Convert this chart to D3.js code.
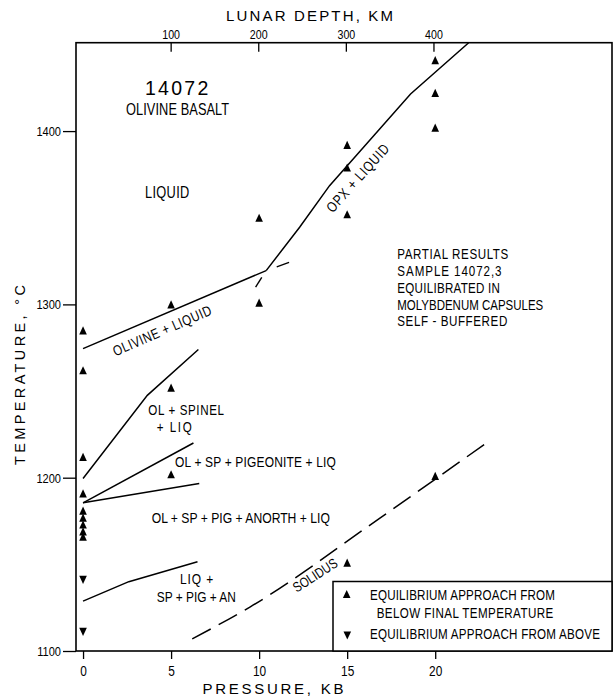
<!DOCTYPE html>
<html><head><meta charset="utf-8">
<script src="https://cdn.jsdelivr.net/npm/d3@7"></script>
<style>
body{margin:0;background:#fff;}
svg{display:block;}
text{font-family:"Liberation Sans",Arial,Helvetica,sans-serif;}
</style></head><body>
<svg id="chart" width="615" height="698"></svg>
<script>
// ---------------- DATA ----------------
const pressureTicks = [0, 5, 10, 15, 20];          // KB
const temperatureTicks = [1100, 1200, 1300, 1400]; // °C
const depthTicks = [100, 200, 300, 400];           // KM
const kmPerKb = 20.1;

// Equilibrium approach from below final temperature  [pressure KB, temperature °C]
const approachBelow = [
  [0,1285],[0,1262],[0,1212],[0,1191],[0,1181],[0,1177],[0,1173],[0,1169],[0,1166],
  [5,1300],[5,1252],[5,1202],
  [10,1350],[10,1301],
  [15,1392],[15,1379],[15,1352],[15,1151],
  [20,1441],[20,1422],[20,1402],[20,1201]
];
// Equilibrium approach from above
const approachAbove = [[0,1141],[0,1111]];

// Phase boundaries
const olivineLiquidLine = [[0,1274.5],[10.4,1319.5]];
const olivineExtension  = [[11.0,1321.6],[11.7,1324.2]];
const opxLiquidLine     = [[10.4,1319.5],[12.3,1344.5],[14.0,1368.5],[18.6,1421.4],[21.9,1451]];
const opxExtension      = [[10.15,1315.6],[9.8,1310]];
const spinelLine        = [[0,1199.5],[3.65,1247.5],[6.55,1274]];
const pigeoniteLine     = [[0,1185.5],[6.27,1220]];
const anorthiteLine     = [[0,1185.5],[6.6,1196.6]];
const liqPigAnLine      = [[0,1128.8],[2.6,1140],[6.5,1151.5]];
const solidusLine       = [[6.2,1107],[9.5,1125.5],[16.9,1177],[22.9,1220]];

// ---------------- CHART ----------------
const svg = d3.select("#chart");
const L = 76, R = 612, T = 42.7, B = 651;
const x = d3.scaleLinear().domain([-0.4, 30.04]).range([L, R]);
const y = d3.scaleLinear().domain([1100, 1451]).range([B, T]);
const xd = d3.scaleLinear().domain([x.domain()[0]*kmPerKb, x.domain()[1]*kmPerKb]).range([L, R]);

svg.append("defs").append("clipPath").attr("id","clip")
  .append("rect").attr("x",L).attr("y",T).attr("width",R-L).attr("height",B-T);

const line = d3.line().x(d=>x(d[0])).y(d=>y(d[1]));
const g = svg.append("g").attr("clip-path","url(#clip)");
const solid = [olivineLiquidLine, opxLiquidLine, spinelLine, pigeoniteLine, anorthiteLine, liqPigAnLine];
g.selectAll("path.solid").data(solid).join("path").attr("class","solid")
  .attr("d", line).attr("fill","none").attr("stroke","#000").attr("stroke-width",1.5);
g.selectAll("path.ext").data([olivineExtension, opxExtension]).join("path").attr("class","ext")
  .attr("d", line).attr("fill","none").attr("stroke","#000").attr("stroke-width",1.4);
g.append("path").datum(solidusLine)
  .attr("d", d3.line().x(d=>x(d[0])).y(d=>y(d[1])).curve(d3.curveMonotoneX))
  .attr("fill","none").attr("stroke","#000").attr("stroke-width",1.5)
  .attr("stroke-dasharray","21,9");

// Axes
const fmt = d3.format("d");
const axL = d3.axisLeft(y).tickValues(temperatureTicks).tickSize(13).tickPadding(2).tickFormat(fmt);
const axB = d3.axisBottom(x).tickValues(pressureTicks).tickSize(8).tickPadding(7).tickFormat(fmt);
const axT = d3.axisTop(xd).tickValues(depthTicks).tickSize(-9).tickPadding(3.5).tickFormat(fmt);
function style(sel, fs, sx){
  sel.select(".domain").remove();
  sel.selectAll(".tick line").attr("stroke","#000").attr("stroke-width",1.3);
  sel.selectAll(".tick text").attr("fill","#000").style("font-size", fs+"px")
    .each(function(){
      const t = d3.select(this);
      const tx = +(t.attr("x")||0), ty = +(t.attr("y")||0);
      t.attr("x",0).attr("y",0).attr("transform",`translate(${tx},${ty}) scale(${sx},1)`);
    });
}
svg.append("g").attr("transform",`translate(${L},0)`).call(axL).call(s=>style(s,13.5,0.82));
svg.append("g").attr("transform",`translate(0,${B})`).call(axB).call(s=>style(s,14.5,0.82));
svg.append("g").attr("transform",`translate(0,${T})`).call(axT).call(s=>style(s,13,0.82));

// Frame & legend box
svg.append("rect").attr("x",L).attr("y",T).attr("width",R-L).attr("height",B-T)
  .attr("fill","none").attr("stroke","#000").attr("stroke-width",1.6);
svg.append("rect").attr("x",333).attr("y",581.5).attr("width",R-333).attr("height",B-581.5)
  .attr("fill","#fff").attr("stroke","#000").attr("stroke-width",1.5);

// Triangles
function tri(px, py, up){
  const w = 3.8, h = 4.1;
  return up
    ? `M${px},${py-h}L${px+w},${py+h}L${px-w},${py+h}Z`
    : `M${px},${py+h}L${px+w},${py-h}L${px-w},${py-h}Z`;
}
svg.append("g").selectAll("path").data(approachBelow).join("path")
  .attr("d", d=>tri(x(d[0]), y(d[1]), true)).attr("fill","#000");
svg.append("g").selectAll("path").data(approachAbove).join("path")
  .attr("d", d=>tri(x(d[0]), y(d[1]), false)).attr("fill","#000");

// Text helper: condensed glyphs (horizontal scale) + letter spacing fitted to a target width
function txt(s, px, py, W, fs, narrow=true, rotate=null){
  const t = svg.append("text").attr("fill","#000").style("font-size", fs+"px").text(s);
  let sx = narrow ? 0.8 : 1;
  const w0 = t.node().getComputedTextLength();
  const n = Math.max(1, s.length - 1);
  let ls = (W/sx - w0)/n;
  if (ls < 0) { sx = W/w0; ls = 0; }
  t.style("letter-spacing", ls+"px");
  if (rotate !== null){
    t.attr("text-anchor","middle").attr("dy","0.36em").attr("x", ls/2)
     .attr("transform",`translate(${px},${py}) rotate(${rotate}) scale(${sx},1)`);
  } else {
    t.attr("transform",`translate(${px},${py}) scale(${sx},1)`);
  }
  return t;
}

// Axis titles
txt("LUNAR DEPTH, KM", 226, 20.5, 167, 15, false);
txt("PRESSURE, KB", 202.4, 694, 141, 15, false);
txt("TEMPERATURE, °C", 25, 375, 180, 14.5, false, -90).attr("dy","0");

// Annotations
txt("14072", 145, 95, 63.3, 19.5, false);
txt("OLIVINE BASALT", 126, 114.8, 103.3, 16);
txt("LIQUID", 145, 197.5, 44.3, 16);
txt("OL + SPINEL", 148.3, 414.5, 75.7, 14.5);
txt("+ LIQ", 156.7, 431.7, 35, 14.5);
txt("OL + SP + PIGEONITE + LIQ", 175, 466.7, 161, 15);
txt("OL + SP + PIG + ANORTH + LIQ", 151.7, 523.3, 178.3, 15.5);
txt("LIQ +", 180, 584.4, 33.3, 15);
txt("SP + PIG + AN", 156.7, 602.3, 79.3, 15);
txt("OLIVINE + LIQUID", 162, 330.5, 106, 14.5, true, -23.5);
txt("OPX + LIQUID", 357.5, 178, 86, 14.5, true, -48);
txt("SOLIDUS", 315, 575, 50, 14, true, -33);

const notes = ["PARTIAL RESULTS","SAMPLE 14072,3","EQUILIBRATED IN","MOLYBDENUM CAPSULES","SELF - BUFFERED"];
const noteBase = [258.5, 275.8, 292.5, 309.5, 326.2];
const noteLen = [111, 104.3, 102.7, 146, 110];
notes.forEach((s,i)=>txt(s, 397.3, noteBase[i], noteLen[i], 14.5));

// Legend
svg.append("path").attr("d", tri(346.7, 594, true)).attr("fill","#000");
svg.append("path").attr("d", tri(347.3, 635.5, false)).attr("fill","#000");
txt("EQUILIBRIUM APPROACH FROM", 370, 599.5, 185, 14.5);
txt("BELOW FINAL TEMPERATURE", 376.7, 617.5, 176.6, 14.5);
txt("EQUILIBRIUM APPROACH FROM ABOVE", 370, 639.2, 230, 14.5);
</script>
</body></html>
